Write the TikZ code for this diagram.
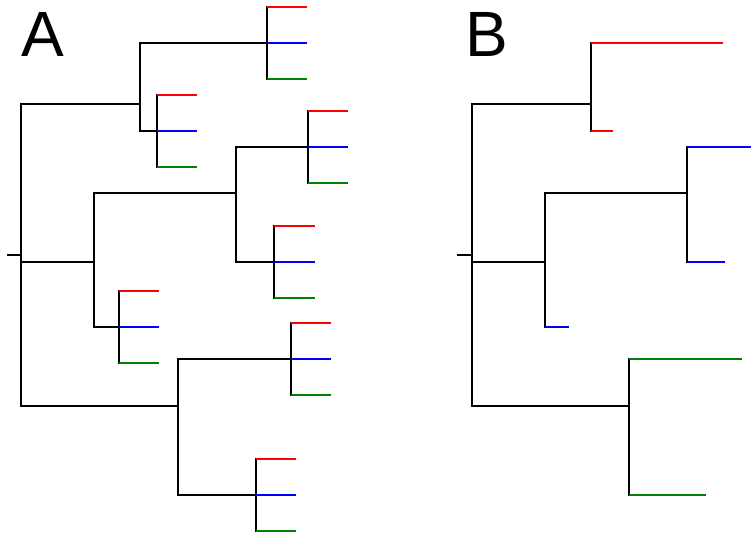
\documentclass[tikz,border=0pt]{standalone}
\usepackage{fontspec}
\setmainfont{Liberation Sans}
\definecolor{lred}{RGB}{255,0,0}
\definecolor{lblue}{RGB}{0,0,255}
\definecolor{lgreen}{RGB}{0,128,0}
\tikzset{
  tree/.style={draw=black, line width=1.2pt},
  rleaf/.style={draw=lred, line width=2.5pt},
  bleaf/.style={draw=lblue, line width=2.5pt},
  gleaf/.style={draw=lgreen, line width=2.5pt},
  panel/.style={font=\fontsize{64}{64}\selectfont, inner sep=0pt, anchor=base west},
}
% #1 name, #2 x, #3 y (branch point), #4 leaf end x
\newcommand\leaftrio[4]{%
  \coordinate (#1) at (#2,#3);
  \coordinate (#1-r) at (#4,#3-36);
  \coordinate (#1-b) at (#4,#3);
  \coordinate (#1-g) at (#4,#3+36);
  \draw[tree] (#1) |- (#1-r);
  \draw[tree] (#1) |- (#1-g);
  \draw[rleaf] (#1 |- #1-r) -- (#1-r);
  \draw[bleaf] (#1) -- (#1-b);
  \draw[gleaf] (#1 |- #1-g) -- (#1-g);
}
\begin{document}
\begin{tikzpicture}[x=1pt, y=-1pt]
\useasboundingbox (0,0) rectangle (751,537);
% ---------- Panel A ----------
\node[panel] (labA) at (21,57) {A};
\coordinate (aS) at (7,255);
\coordinate (aR) at (21,255);
\coordinate (a1) at (140,104);
\coordinate (a2) at (94,262);
\coordinate (a21) at (236,193);
\coordinate (a3) at (178,406);
\leaftrio{a11}{267}{43}{307}
\leaftrio{a12}{157}{131}{197}
\leaftrio{a211}{308}{147}{348}
\leaftrio{a212}{274}{262}{315}
\leaftrio{a22}{119}{327}{159}
\leaftrio{a31}{291}{359}{331}
\leaftrio{a32}{256}{495}{296}
\draw[tree] (aS) -- (aR);
\draw[tree] (aR) |- (a1);
\draw[tree] (aR) |- (a2);
\draw[tree] (aR) |- (a3);
\draw[tree] (a1) |- (a11);
\draw[tree] (a1) |- (a12);
\draw[tree] (a2) |- (a21);
\draw[tree] (a2) |- (a22);
\draw[tree] (a21) |- (a211);
\draw[tree] (a21) |- (a212);
\draw[tree] (a3) |- (a31);
\draw[tree] (a3) |- (a32);
% ---------- Panel B ----------
\node[panel] (labB) at (465,57) {B};
\coordinate (bS) at (457,255);
\coordinate (bR) at (472,255);
\coordinate (b1) at (591,104);
\coordinate (b2) at (545,262);
\coordinate (b21) at (687,193);
\coordinate (b3) at (629,406);
\coordinate (b1a) at (723,43);
\coordinate (b1b) at (613,131);
\coordinate (b21a) at (753,147);
\coordinate (b21b) at (725,262);
\coordinate (b22) at (569,327);
\coordinate (b3a) at (742,359);
\coordinate (b3b) at (706,495);
\draw[tree] (bS) -- (bR);
\draw[tree] (bR) |- (b1);
\draw[tree] (bR) |- (b2);
\draw[tree] (bR) |- (b3);
\draw[tree] (b2) |- (b21);
\draw[tree] (b1) |- (b1a);
\draw[tree] (b1) |- (b1b);
\draw[tree] (b21) |- (b21a);
\draw[tree] (b21) |- (b21b);
\draw[tree] (b2) |- (b22);
\draw[tree] (b3) |- (b3a);
\draw[tree] (b3) |- (b3b);
\draw[rleaf] (b1 |- b1a) -- (b1a);
\draw[rleaf] (b1 |- b1b) -- (b1b);
\draw[bleaf] (b21 |- b21a) -- (b21a);
\draw[bleaf] (b21 |- b21b) -- (b21b);
\draw[bleaf] (b2 |- b22) -- (b22);
\draw[gleaf] (b3 |- b3a) -- (b3a);
\draw[gleaf] (b3 |- b3b) -- (b3b);
\end{tikzpicture}
\end{document}
